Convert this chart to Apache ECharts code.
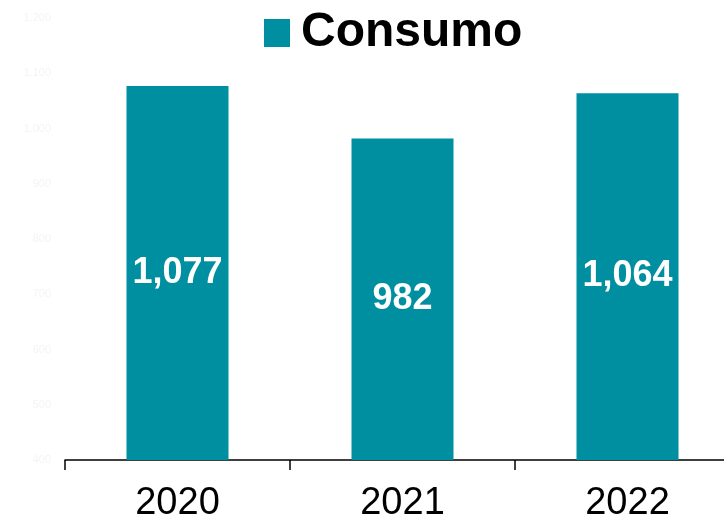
<!DOCTYPE html>
<html><head><meta charset="utf-8">
<script src="https://cdn.jsdelivr.net/npm/echarts@6/dist/echarts.min.js"></script>
<style>html,body{margin:0;padding:0;background:#fff}#c{width:724px;height:520px}</style>
</head><body><div id="c"></div>
<script>
const categories = ['2020', '2021', '2022'];
const consumo = [1077, 982, 1064];
const seriesName = 'Consumo';

const chart = echarts.init(document.getElementById('c'));
chart.setOption({
  animation: false,
  legend: {
    top: 4, left: 259,
    itemWidth: 26, itemHeight: 28, itemGap: 8,
    icon: 'rect',
    textStyle: { fontFamily: 'Liberation Sans, Arial', fontWeight: 'bold', fontSize: 48, color: '#000', padding: [0, 0, 0, 6] },
    data: [seriesName]
  },
  grid: { left: 65, width: 675, top: 18, bottom: 60, containLabel: false, outerBoundsMode: 'none' },
  xAxis: {
    type: 'category', data: categories,
    axisLine: { lineStyle: { color: '#000', width: 1.5 } },
    axisTick: { show: true, length: 10, lineStyle: { color: '#000', width: 1.5 } },
    axisLabel: { fontFamily: 'Liberation Sans, Arial', fontSize: 38, color: '#000', margin: 25 }
  },
  yAxis: {
    type: 'value', min: 400, max: 1200, interval: 100,
    axisLine: { show: false }, axisTick: { show: false },
    splitLine: { show: false },
    axisLabel: {
      fontFamily: 'Liberation Sans, Arial', fontSize: 11, color: '#f4f4f4', margin: 14,
      formatter: v => v.toLocaleString('en-US')
    }
  },
  series: [{
    name: seriesName, type: 'bar', data: consumo, barWidth: 102,
    itemStyle: { color: '#008FA0' },
    label: {
      show: true, position: 'inside', color: '#fff',
      fontFamily: 'Liberation Sans, Arial', fontWeight: 'bold', fontSize: 36,
      formatter: p => p.value.toLocaleString('en-US')
    }
  }]
});
</script></body></html>
